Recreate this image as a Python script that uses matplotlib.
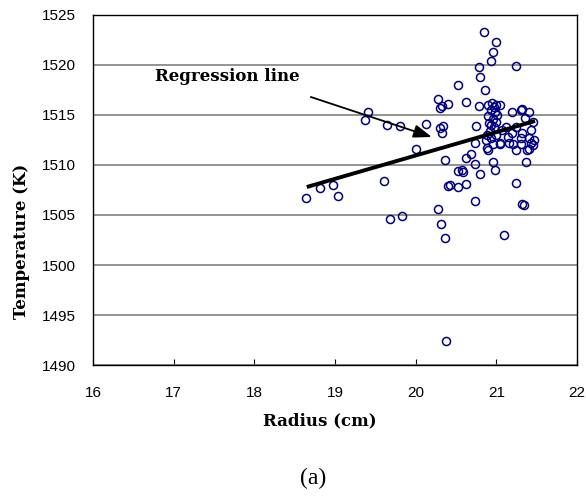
import matplotlib
matplotlib.use("Agg")
import matplotlib.pyplot as plt
import numpy as np

# measured radius (cm) and temperature (K) for each sample
radius = [
    18.64, 18.81, 18.98, 19.04, 19.37, 19.41, 19.64, 19.81, 20.13, 20.00,
    19.61, 19.68, 19.83, 20.33, 20.36, 20.40, 20.28, 20.32, 20.37, 20.38,
    20.63, 20.68, 20.74, 20.96, 20.98, 20.52, 20.58, 20.59, 20.80, 20.42,
    20.53, 20.63, 21.25, 20.74, 21.32, 21.34, 21.10, 21.37, 21.40,
    20.85, 21.00, 20.96, 20.94, 21.25, 20.78, 20.80, 20.52, 20.86, 20.28,
    20.30, 20.33, 20.40, 20.62, 20.78, 20.34, 20.30, 20.75,
    21.19, 21.31, 21.41, 21.36, 21.45, 21.12, 21.25, 21.20, 21.32, 21.43,
    21.14, 21.30, 21.41, 21.47, 21.16, 21.31, 21.45, 21.04, 21.07, 21.05,
    21.32, 20.74, 20.89, 20.96, 21.05, 21.21, 21.25, 21.43, 20.90, 21.38,
    20.90, 20.95, 21.00, 20.93, 20.98, 20.90, 20.96, 21.01, 20.91, 20.97,
    20.92, 20.99, 20.94, 20.88, 21.00, 20.94, 20.87, 20.97,
]
temperature = [
    1506.7, 1507.7, 1508.0, 1506.9, 1514.5, 1515.3, 1514.0, 1513.9, 1514.1, 1511.6,
    1508.4, 1504.6, 1504.9, 1513.2, 1510.5, 1507.9, 1505.6, 1504.1, 1502.7, 1492.4,
    1510.7, 1511.1, 1510.1, 1510.3, 1509.5, 1509.4, 1509.5, 1509.3, 1509.1, 1508.0,
    1507.8, 1508.1, 1508.2, 1506.4, 1506.1, 1506.0, 1503.0, 1510.3, 1511.6,
    1523.3, 1522.3, 1521.3, 1520.4, 1519.9, 1519.8, 1518.8, 1518.0, 1517.5, 1516.6,
    1515.7, 1515.9, 1516.1, 1516.3, 1515.9, 1513.9, 1513.7, 1513.9,
    1515.3, 1515.5, 1515.3, 1514.7, 1514.3, 1513.8, 1513.8, 1513.2, 1513.2, 1513.5,
    1512.8, 1512.7, 1512.7, 1512.5, 1512.2, 1512.1, 1512.0, 1512.2, 1513.5, 1516.0,
    1515.6, 1512.2, 1511.7, 1512.1, 1512.1, 1512.1, 1511.5, 1512.2, 1511.5, 1511.5,
    1516.0, 1516.2, 1516.0, 1515.5, 1515.3, 1514.9, 1514.6, 1515.0, 1514.2, 1513.8,
    1513.4, 1513.0, 1512.7, 1513.0, 1514.3, 1514.0, 1512.5, 1515.8,
]

# fitted trend end points
reg_x = [18.65, 21.48]
reg_y = [1507.8, 1514.4]

fig = plt.figure(figsize=(5.86, 4.99), dpi=100)
ax = fig.add_axes([0.1587, 0.2685, 0.8259, 0.7015])

ax.plot(radius, temperature, linestyle="none", marker="o", ms=5.8,
        mfc="none", mec="#000080", mew=1.1, zorder=3)
ax.plot(reg_x, reg_y, color="black", lw=2.8, solid_capstyle="butt", zorder=4)

ax.text(16.77, 1518.8, "Regression line", fontsize=12, fontweight="bold",
        family="DejaVu Serif", va="center", ha="left")
ax.annotate("", xy=(20.2, 1512.8), xytext=(18.7, 1516.8),
            arrowprops=dict(arrowstyle="-|>,head_length=1.1,head_width=0.4",
                            color="black", lw=1.3, shrinkA=0, shrinkB=0),
            zorder=5)

ax.set_xlim(16, 22)
ax.set_ylim(1490, 1525)
ax.set_xticks(np.arange(16, 23, 1))
ax.set_yticks(np.arange(1490, 1526, 5))
ax.yaxis.grid(True, color="#808080", lw=1.2)
ax.set_axisbelow(True)
ax.tick_params(axis="x", direction="in", length=4, pad=15, labelsize=11)
ax.tick_params(axis="y", length=0, pad=12, labelsize=11)
for lab in ax.get_xticklabels() + ax.get_yticklabels():
    lab.set_family("Liberation Sans")
for sp in ax.spines.values():
    sp.set_color("black")
    sp.set_linewidth(1)

ax.set_xlabel("Radius (cm)", fontsize=12, fontweight="bold", family="DejaVu Serif")
ax.set_ylabel("Temperature (K)", fontsize=12, fontweight="bold", family="DejaVu Serif")
ax.xaxis.set_label_coords(0.469, -0.134)
ax.yaxis.set_label_coords(-0.13, 0.354)

fig.text(313 / 586, 1 - 478 / 499, "(a)", ha="center", va="center",
         fontsize=17, family="Liberation Serif")

fig.savefig("out.png", dpi=100)
plt.close(fig)
